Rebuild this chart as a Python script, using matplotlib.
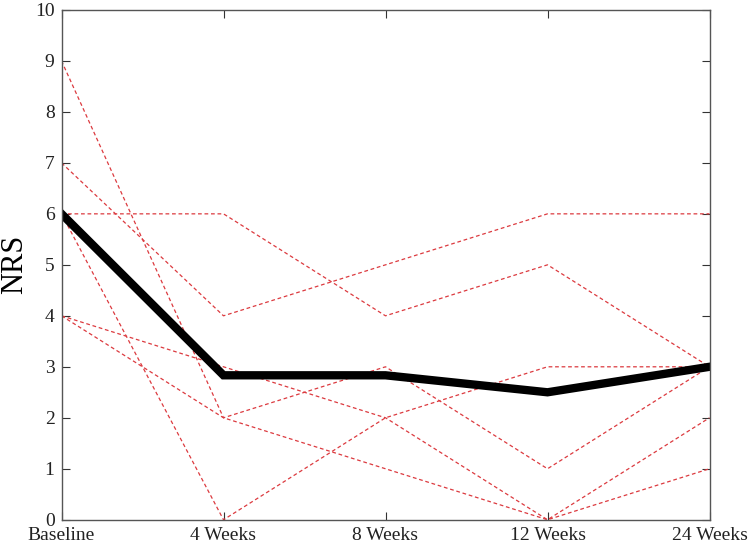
import numpy as np
import matplotlib
matplotlib.use("Agg")
import matplotlib.pyplot as plt

# ------------------------------------------------------------------
# Data (NRS scores per patient at each visit)
# ------------------------------------------------------------------
timepoints = ["Baseline", "4 Weeks", "8 Weeks", "12 Weeks", "24 Weeks"]

patient_1 = [9, 2, 3, 1, 3]
patient_2 = [7, 4, 5, 6, 6]
patient_3 = [6, 6, 4, 5, 3]
patient_4 = [6, 0, 2, 3, 3]
patient_5 = [4, 3, 2, 0, 2]
patient_6 = [4, 2, 1, 0, 1]

patients = [patient_1, patient_2, patient_3, patient_4, patient_5, patient_6]
mean_nrs = np.mean(np.array(patients), axis=0)

# ------------------------------------------------------------------
# Plot
# ------------------------------------------------------------------
plt.rcParams["font.family"] = ["Liberation Serif", "DejaVu Serif"]

fig = plt.figure(figsize=(7.5, 5.5), dpi=100)
ax = fig.add_axes([0.082, 0.055, 0.864, 0.927])

x = np.arange(len(timepoints))
for p in patients:
    ax.plot(x, p, color="#dc3a3f", linestyle=(0, (3, 2.2)), linewidth=0.9)

ax.plot(x, mean_nrs, color="black", linewidth=6, solid_joinstyle="miter")

ax.set_xlim(0, len(timepoints) - 1)
ax.set_ylim(0, 10)
ax.set_xticks(x)
ax.set_xticklabels(timepoints)
ax.set_yticks(range(0, 11))
ax.set_ylabel("NRS", fontsize=22, labelpad=4)

ax.tick_params(direction="in", length=6, width=0.8, colors="#333333",
               labelsize=14, labelcolor="#222222",
               top=True, right=True, pad=5)
for s in ax.spines.values():
    s.set_color("#555555")
    s.set_linewidth(1.0)

fig.savefig("out.png", dpi=100)
